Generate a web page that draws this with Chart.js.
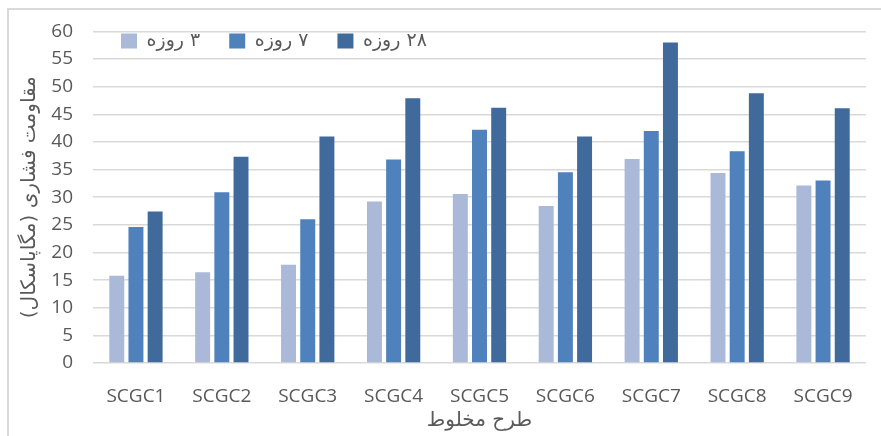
<!DOCTYPE html>
<html>
<head>
<meta charset="utf-8">
<script src="https://cdn.jsdelivr.net/npm/chart.js@4.4.1/dist/chart.umd.min.js"></script>
<style>
  html, body { margin: 0; padding: 0; background: #fff; }
  #wrap { position: relative; width: 881px; height: 436px; overflow: hidden; }
  #frame { position: absolute; left: 7px; top: 8px; width: 900px; height: 460px;
           border-top: 2px solid #D9D9D9; border-left: 2px solid #D9D9D9; }
  canvas { position: absolute; left: 0; top: 0; }
</style>
</head>
<body>
<div id="wrap">
  <div id="frame"></div>
  <canvas id="c" width="881" height="436"></canvas>
</div>
<script>
const categories = ['SCGC1','SCGC2','SCGC3','SCGC4','SCGC5','SCGC6','SCGC7','SCGC8','SCGC9'];
const seriesNames = ['۳ روزه', '۷ روزه', '۲۸ روزه'];
const day3  = [15.8, 16.4, 17.8, 29.2, 30.6, 28.4, 36.9, 34.4, 32.1];
const day7  = [24.6, 30.9, 26.0, 36.8, 42.2, 34.5, 42.0, 38.3, 33.0];
const day28 = [27.4, 37.3, 41.0, 47.9, 46.2, 41.0, 58.0, 48.8, 46.1];
const xTitle = 'طرح مخلوط';
const yTitle = '\u200Fمقاومت فشاری (مگاپاسکال)\u200F';
const colors = ['#AAB9D8', '#4F81BD', '#406A9C'];

// Legend sits inside the plot area (like the original): take no layout space, then shift it.
const legendShift = {
  id: 'legendShift',
  beforeLayout(chart) {
    const lg = chart.legend;
    if (lg && !lg._zeroFit) {
      const orig = lg.fit.bind(lg);
      lg.fit = function () { orig(); this.height = 0; };
      lg._zeroFit = true;
    }
  },
  afterLayout(chart) {
    const lg = chart.legend;
    const pad = lg.options.labels.padding;
    lg.left = 121 - pad;
    lg.right = chart.width;
    lg.top = chart.chartArea.top - pad;
    lg.bottom = lg.top + 80;
  }
};

const ds = [day3, day7, day28].map((d, i) => ({
  label: seriesNames[i],
  data: d,
  backgroundColor: colors[i],
  borderWidth: 0,
  categoryPercentage: 0.67,
  barPercentage: 0.78
}));

new Chart(document.getElementById('c'), {
  type: 'bar',
  data: { labels: categories, datasets: ds },
  plugins: [legendShift],
  options: {
    responsive: false,
    animation: false,
    layout: { padding: { left: 18, right: 15, top: 30, bottom: 0 } },
    plugins: {
      tooltip: { enabled: false },
      legend: {
        position: 'top',
        align: 'start',
        textDirection: 'rtl',
        labels: {
          boxWidth: 16,
          boxHeight: 15,
          padding: 29,
          color: '#595959',
          font: { family: 'DejaVu Sans', size: 19 }
        }
      }
    },
    scales: {
      x: {
        grid: { display: false, drawTicks: false },
        border: { display: false },
        ticks: { color: '#595959', padding: 22, font: { family: 'Open Sans', size: 19 } },
        title: { display: true, text: xTitle, color: '#595959', padding: { top: 0, bottom: 3 },
                 font: { family: 'DejaVu Sans', size: 20 } },
        afterFit(s) { s.height = 73; }
      },
      y: {
        min: 0, max: 60,
        ticks: { stepSize: 5, color: '#595959', padding: 20, font: { family: 'Open Sans', size: 19 } },
        grid: { color: '#D9D9D9', lineWidth: 1.5, drawTicks: false },
        border: { display: false },
        title: { display: true, text: yTitle, color: '#595959', padding: { top: 0, bottom: 0 },
                 font: { family: 'DejaVu Sans', size: 20 } },
        afterFit(s) { s.width = 75; }
      }
    }
  }
});
</script>
</body>
</html>
